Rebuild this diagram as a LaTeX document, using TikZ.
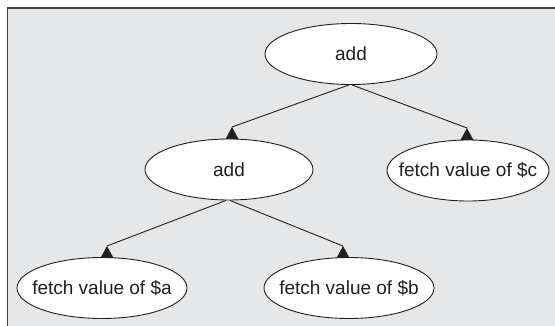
\documentclass[tikz,border=0pt]{standalone}
\usepackage{fontspec}
\setmainfont{Liberation Sans}
\usetikzlibrary{shapes.geometric}
\definecolor{panel}{HTML}{E6E7E8}
\definecolor{ink}{HTML}{231F20}
\tikzset{
  term/.style={ellipse, draw=ink, line width=0.9pt, fill=white, inner sep=0pt,
    minimum width=170pt, minimum height=61pt, font=\fontsize{19}{21}\selectfont, text=ink},
  edge/.style={draw=ink, line width=0.9pt},
  head/.style={fill=ink, draw=none}
}
% label set at zero width so the ellipse keeps its given size
\newcommand{\lbl}[1]{\makebox[0pt]{#1}}
\newcommand{\uphead}[1]{\fill[head] (#1) -- ++(-6.5,12) -- ++(13,0) -- cycle;}
\begin{document}
\begin{tikzpicture}[x=1pt, y=-1pt]
  \useasboundingbox (0,0) rectangle (555,326);
  % framed grey panel
  \fill[panel] (7.5,8) rectangle (560,330);
  \draw[ink!85, line width=1.3pt] (7.5,332) -- (7.5,8) -- (560,8);

  % expression tree
  \node[term, minimum width=172pt] (root) at (351,54) {\lbl{add}};
  \node[term, minimum width=168pt] (sum) at (229,169.5) {\lbl{add}};
  \node[term, minimum width=162pt] (c) at (468,170.5) {\lbl{fetch value of \$c}};
  \node[term] (a) at (102,288) {\lbl{fetch value of \$a}};
  \node[term] (b) at (349,288) {\lbl{fetch value of \$b}};

  % arrow tips resting on top of each child
  \coordinate (tsum) at (232,127);
  \coordinate (tc) at (467,128);
  \coordinate (ta) at (107,246);
  \coordinate (tb) at (343,246);

  \draw[edge] ([xshift=-2pt]root.south) -- (tsum);
  \draw[edge] ([xshift=1pt]root.south) -- (tc);
  \draw[edge] ([xshift=-3pt]sum.south) -- (ta);
  \draw[edge] ([xshift=1pt]sum.south) -- (tb);

  \uphead{tsum}
  \uphead{tc}
  \uphead{ta}
  \uphead{tb}
\end{tikzpicture}
\end{document}
